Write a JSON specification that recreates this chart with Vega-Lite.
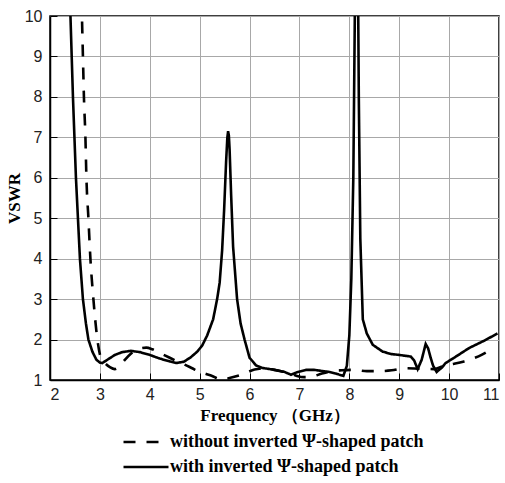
{
  "$schema": "https://vega.github.io/schema/vega-lite/v6.json",
  "width": 449,
  "height": 364,
  "autosize": "none",
  "padding": {"left": 50, "top": 16, "right": 6, "bottom": 103},
  "background": "white",
  "config": {
    "view": {"stroke": "black", "strokeWidth": 1.5},
    "font": "Liberation Sans"
  },
  "datasets": {
    "with": [
      {"f": 2.38, "v": 11}, {"f": 2.41, "v": 10}, {"f": 2.46, "v": 8}, {"f": 2.52, "v": 6}, {"f": 2.56, "v": 5},
      {"f": 2.6, "v": 4}, {"f": 2.66, "v": 3}, {"f": 2.72, "v": 2.4}, {"f": 2.77, "v": 2.0}, {"f": 2.85, "v": 1.7},
      {"f": 2.93, "v": 1.5}, {"f": 3.0, "v": 1.43}, {"f": 3.05, "v": 1.42}, {"f": 3.15, "v": 1.5}, {"f": 3.3, "v": 1.62},
      {"f": 3.45, "v": 1.69}, {"f": 3.62, "v": 1.72}, {"f": 3.8, "v": 1.69}, {"f": 4.0, "v": 1.62}, {"f": 4.2, "v": 1.53},
      {"f": 4.4, "v": 1.46}, {"f": 4.53, "v": 1.42}, {"f": 4.68, "v": 1.45}, {"f": 4.82, "v": 1.56}, {"f": 4.95, "v": 1.7},
      {"f": 5.05, "v": 1.85}, {"f": 5.15, "v": 2.1}, {"f": 5.27, "v": 2.5}, {"f": 5.35, "v": 3.0}, {"f": 5.4, "v": 3.4},
      {"f": 5.45, "v": 4.2}, {"f": 5.49, "v": 5.2}, {"f": 5.53, "v": 6.4}, {"f": 5.555, "v": 7.0}, {"f": 5.57, "v": 7.15},
      {"f": 5.585, "v": 7.05}, {"f": 5.6, "v": 6.7},
      {"f": 5.63, "v": 5.6}, {"f": 5.67, "v": 4.3}, {"f": 5.75, "v": 3.0}, {"f": 5.82, "v": 2.4}, {"f": 5.9, "v": 2.0},
      {"f": 6.0, "v": 1.55}, {"f": 6.07, "v": 1.45}, {"f": 6.13, "v": 1.36}, {"f": 6.25, "v": 1.3}, {"f": 6.4, "v": 1.27},
      {"f": 6.55, "v": 1.24}, {"f": 6.7, "v": 1.2}, {"f": 6.83, "v": 1.13}, {"f": 6.97, "v": 1.2}, {"f": 7.13, "v": 1.25},
      {"f": 7.3, "v": 1.25}, {"f": 7.47, "v": 1.22}, {"f": 7.6, "v": 1.2}, {"f": 7.73, "v": 1.16}, {"f": 7.88, "v": 1.1},
      {"f": 7.95, "v": 1.35}, {"f": 8.0, "v": 2.1}, {"f": 8.04, "v": 3.5}, {"f": 8.08, "v": 6}, {"f": 8.11, "v": 10},
      {"f": 8.13, "v": 11.5}, {"f": 8.17, "v": 11.5}, {"f": 8.19, "v": 8}, {"f": 8.22, "v": 4.5}, {"f": 8.27, "v": 2.5},
      {"f": 8.35, "v": 2.15}, {"f": 8.47, "v": 1.87}, {"f": 8.67, "v": 1.7}, {"f": 8.85, "v": 1.64}, {"f": 9.0, "v": 1.62},
      {"f": 9.23, "v": 1.58}, {"f": 9.3, "v": 1.48}, {"f": 9.37, "v": 1.27}, {"f": 9.45, "v": 1.5}, {"f": 9.53, "v": 1.89},
      {"f": 9.58, "v": 1.78}, {"f": 9.63, "v": 1.55}, {"f": 9.68, "v": 1.35}, {"f": 9.75, "v": 1.2}, {"f": 9.85, "v": 1.3},
      {"f": 9.93, "v": 1.42}, {"f": 10.1, "v": 1.55}, {"f": 10.4, "v": 1.79}, {"f": 10.7, "v": 1.97}, {"f": 10.97, "v": 2.15}
    ],
    "without": [
      {"f": 2.62, "v": 11}, {"f": 2.64, "v": 10}, {"f": 2.66, "v": 9}, {"f": 2.68, "v": 8}, {"f": 2.71, "v": 7},
      {"f": 2.73, "v": 6}, {"f": 2.77, "v": 5}, {"f": 2.81, "v": 4}, {"f": 2.87, "v": 3}, {"f": 2.95, "v": 2},
      {"f": 3.02, "v": 1.55}, {"f": 3.1, "v": 1.42}, {"f": 3.2, "v": 1.32}, {"f": 3.3, "v": 1.27}, {"f": 3.4, "v": 1.35},
      {"f": 3.5, "v": 1.5}, {"f": 3.62, "v": 1.65}, {"f": 3.75, "v": 1.76}, {"f": 3.93, "v": 1.8}, {"f": 4.05, "v": 1.76},
      {"f": 4.2, "v": 1.67}, {"f": 4.4, "v": 1.55}, {"f": 4.55, "v": 1.46}, {"f": 4.7, "v": 1.38}, {"f": 4.85, "v": 1.29},
      {"f": 5.0, "v": 1.2}, {"f": 5.13, "v": 1.15}, {"f": 5.25, "v": 1.1}, {"f": 5.37, "v": 1.03}, {"f": 5.47, "v": 1.01},
      {"f": 5.6, "v": 1.05}, {"f": 5.75, "v": 1.1}, {"f": 5.9, "v": 1.16}, {"f": 6.1, "v": 1.26}, {"f": 6.33, "v": 1.29},
      {"f": 6.5, "v": 1.25}, {"f": 6.65, "v": 1.21}, {"f": 6.8, "v": 1.17}, {"f": 6.95, "v": 1.1}, {"f": 7.1, "v": 1.07},
      {"f": 7.25, "v": 1.08}, {"f": 7.45, "v": 1.16}, {"f": 7.65, "v": 1.22}, {"f": 7.85, "v": 1.24}, {"f": 8.1, "v": 1.25},
      {"f": 8.35, "v": 1.22}, {"f": 8.6, "v": 1.22}, {"f": 8.85, "v": 1.24}, {"f": 9.1, "v": 1.29}, {"f": 9.4, "v": 1.28},
      {"f": 9.7, "v": 1.27}, {"f": 9.9, "v": 1.35}, {"f": 10.1, "v": 1.4}, {"f": 10.3, "v": 1.46}, {"f": 10.5, "v": 1.54},
      {"f": 10.65, "v": 1.62}, {"f": 10.78, "v": 1.71}
    ]
  },
  "layer": [
    {
      "data": {"name": "without"},
      "transform": [{"calculate": "'without inverted Ψ-shaped patch'", "as": "series"}],
      "mark": {"type": "line", "clip": true, "color": "black", "strokeWidth": 2.6, "interpolate": "monotone"},
      "encoding": {
        "x": {"field": "f", "type": "quantitative"},
        "y": {"field": "v", "type": "quantitative"},
        "strokeDash": {"field": "series", "type": "nominal"}
      }
    },
    {
      "data": {"name": "with"},
      "transform": [{"calculate": "'with inverted Ψ-shaped patch'", "as": "series"}],
      "mark": {"type": "line", "clip": true, "color": "black", "strokeWidth": 2.6, "interpolate": "linear"},
      "encoding": {
        "x": {
          "field": "f", "type": "quantitative",
          "scale": {"domain": [2, 11], "nice": false, "zero": false},
          "axis": {
            "values": [2, 2.5, 3, 3.5, 4, 4.5, 5, 5.5, 6, 6.5, 7, 7.5, 8, 8.5, 9, 9.5, 10, 10.5, 11],
            "title": "Frequency （GHz）",
            "titleFont": "Liberation Serif", "titleFontSize": 17, "titleFontWeight": "bold", "titleColor": "black",
            "titlePadding": 5,
            "labelExpr": "datum.value % 1 === 0 ? datum.label : ''",
            "labelFont": "Liberation Sans", "labelFontSize": 16, "labelColor": "#222", "labelPadding": 13,
            "domainColor": "black", "domainWidth": 1.5,
            "tickColor": "black",
            "tickSize": {"condition": {"test": "datum.value % 1 !== 0", "value": -4}, "value": -7},
            "grid": true,
            "gridColor": {"condition": {"test": "datum.value % 1 !== 0", "value": "#cfcfcf"}, "value": "#a8a8a8"},
            "gridDash": {"condition": {"test": "datum.value % 1 !== 0", "value": [3, 3]}, "value": []},
            "gridWidth": 1
          }
        },
        "y": {
          "field": "v", "type": "quantitative",
          "scale": {"domain": [1, 10], "nice": false, "zero": false},
          "axis": {
            "values": [1, 1.5, 2, 2.5, 3, 3.5, 4, 4.5, 5, 5.5, 6, 6.5, 7, 7.5, 8, 8.5, 9, 9.5, 10],
            "title": "VSWR",
            "titleFont": "Liberation Serif", "titleFontSize": 17, "titleFontWeight": "bold", "titleColor": "black",
            "titlePadding": 1,
            "labelExpr": "datum.value % 1 === 0 ? datum.label : ''",
            "labelFont": "Liberation Sans", "labelFontSize": 16, "labelColor": "#222", "labelPadding": 15,
            "domainColor": "black", "domainWidth": 1.5,
            "tickColor": "black",
            "tickSize": {"condition": {"test": "datum.value % 1 !== 0", "value": -4}, "value": -7},
            "grid": true,
            "gridColor": {"condition": {"test": "datum.value % 1 !== 0", "value": "#cfcfcf"}, "value": "#a8a8a8"},
            "gridDash": {"condition": {"test": "datum.value % 1 !== 0", "value": [3, 3]}, "value": []},
            "gridWidth": 1
          }
        },
        "strokeDash": {
          "field": "series", "type": "nominal",
          "scale": {
            "domain": ["without inverted Ψ-shaped patch", "with inverted Ψ-shaped patch"],
            "range": [[12, 11], [1, 0]]
          },
          "legend": {
            "title": null,
            "orient": "none",
            "legendX": 72,
            "legendY": 415,
            "padding": 0,
            "symbolType": "stroke",
            "symbolSize": 2025,
            "symbolStrokeWidth": 2.6,
            "symbolStrokeColor": "black",
            "clipHeight": 22,
            "labelFont": "Liberation Serif", "labelFontSize": 18, "labelFontWeight": "bold", "labelColor": "black",
            "labelLimit": 400,
            "labelOffset": 0,
            "rowPadding": 3,
            "encode": {
              "symbols": {
                "update": {
                  "strokeDash": [
                    {"test": "datum.label === 'without inverted Ψ-shaped patch'", "value": [10, 5, 10, 40]},
                    {"value": [1, 0]}
                  ]
                }
              }
            }
          }
        }
      }
    }
  ]
}
